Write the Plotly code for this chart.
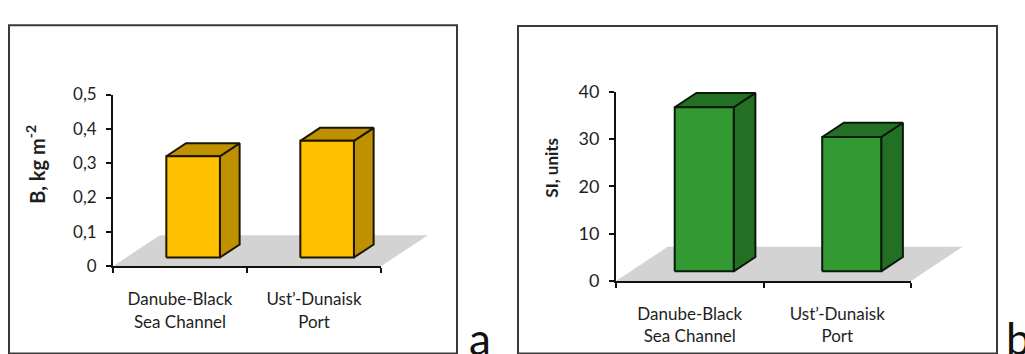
import plotly.graph_objects as go

# ---- data -------------------------------------------------------------
categories = ["Danube-Black<br>Sea Channel", "Ust\u2019-Dunaisk<br>Port"]
biomass = [0.295, 0.34]          # B, kg m-2
si_units = [34.7, 28.4]          # SI, units
b_ticks = [0, 0.1, 0.2, 0.3, 0.4, 0.5]
si_ticks = [0, 10, 20, 30, 40]

# ---- page geometry (pixels) ------------------------------------------
W, H = 1025, 354
FONT = "Lato"
TEXT = "#1e1e1e"

def fx(p):
    return p / W

def fy(p):
    return 1 - p / H

# oblique 3-D look of the columns
DEPTH_X = 0.35        # floor depth along x, in category units
DEPTH_Y = 0.18        # floor depth along y, as a share of the value range
BAR_W = 0.40          # column width, in category units
BAR_D0, BAR_D1 = 0.28, 0.70   # column front / back, as share of floor depth

panels = [
    dict(values=biomass, ticks=b_ticks, ymax=0.5, ox=113, oy=271, ux=134, ytop=88,
         front="#FFC000", shade="#BF9000", edge="#1c1500",
         title="<b>B, kg m<sup>-2</sup></b>", tsize=20, tx=35, ty=163,
         tickfont=17, letter="a", lx=480, ly=348),
    dict(values=si_units, ticks=si_ticks, ymax=40, ox=616, oy=286.7, ux=147.5, ytop=85,
         front="#339933", shade="#236F23", edge="#081a08",
         title="<b>SI, units</b>", tsize=17, tx=552, ty=166,
         tickfont=18, letter="b", lx=1018, ly=348),
]

fig = go.Figure()
layout_axes = {}
annotations = []
shapes = []


def poly(xs, ys, fill, edge, xa, ya, width=2):
    return go.Scatter(x=xs + [xs[0]], y=ys + [ys[0]], mode="lines", fill="toself",
                      fillcolor=fill, line=dict(color=edge, width=width),
                      xaxis=xa, yaxis=ya, hoverinfo="skip", showlegend=False)


for k, p in enumerate(panels):
    n_data = 2 * k + 1
    n_vis = 2 * k + 2
    xd, yd = f"x{n_data if n_data > 1 else ''}", f"y{n_data if n_data > 1 else ''}"
    xv, yv = f"x{n_vis}", f"y{n_vis}"
    ncat = len(p["values"])
    ymax = p["ymax"]
    ppu = (p["oy"] - p["ytop"]) / ymax          # pixels per value unit

    # data axes (hidden) - slightly larger ranges so the 3-D faces are not clipped
    xr = ncat + 0.45
    yr = ymax * 1.06
    data_x = dict(range=[0, xr], domain=[fx(p["ox"]), fx(p["ox"] + xr * p["ux"])],
                  visible=False, anchor=yd, fixedrange=True)
    data_y = dict(range=[0, yr], domain=[fy(p["oy"]), fy(p["oy"] - yr * ppu)],
                  visible=False, anchor=xd, fixedrange=True)
    # visible axes
    vis_x = dict(range=[0, ncat], domain=[fx(p["ox"]), fx(p["ox"] + ncat * p["ux"])],
                 anchor=yv, showline=True, linecolor="#111", linewidth=1.8,
                 showgrid=False, zeroline=False, ticks="",
                 tickvals=[i + 0.5 for i in range(ncat)], ticktext=categories,
                 tickfont=dict(family=FONT, size=17, color=TEXT),
                 ticklabelstandoff=17,
                 minor=dict(tickvals=list(range(ncat + 1)), ticks="outside",
                            ticklen=5, tickcolor="#111", tickwidth=1.8),
                 fixedrange=True, layer="below traces")
    vis_y = dict(range=[0, ymax], domain=[fy(p["oy"]), fy(p["ytop"])],
                 anchor=xv, showline=True, linecolor="#111", linewidth=1.8,
                 showgrid=False, zeroline=False, ticks="outside", ticklen=5,
                 tickcolor="#111", tickwidth=1.6, tickvals=p["ticks"],
                 tickfont=dict(family=FONT, size=p["tickfont"], color=TEXT),
                 ticklabelstandoff=6, fixedrange=True, layer="below traces")

    key_d = "" if n_data == 1 else str(n_data)
    layout_axes[f"xaxis{key_d}"] = data_x
    layout_axes[f"yaxis{key_d}"] = data_y
    layout_axes[f"xaxis{n_vis}"] = vis_x
    layout_axes[f"yaxis{n_vis}"] = vis_y

    # empty trace so the visible axis pair forms a subplot
    fig.add_trace(go.Scatter(x=[None], y=[None], xaxis=xv, yaxis=yv, showlegend=False,
                             hoverinfo="skip"))

    dx = DEPTH_X
    dy = DEPTH_Y * ymax
    # floor
    fig.add_trace(poly([0, ncat, ncat + dx, dx], [0, 0, dy, dy],
                       "#D3D3D3", "rgba(0,0,0,0)", xd, yd, width=0))

    # columns
    for i, v in enumerate(p["values"]):
        x0 = i + 0.5 - BAR_W / 2 + BAR_D0 * dx
        x1 = x0 + BAR_W
        yb = BAR_D0 * dy
        yt = yb + v
        ddx = (BAR_D1 - BAR_D0) * dx
        ddy = (BAR_D1 - BAR_D0) * dy
        # side face
        fig.add_trace(poly([x1, x1 + ddx, x1 + ddx, x1],
                           [yb, yb + ddy, yt + ddy, yt], p["shade"], p["edge"], xd, yd))
        # top face
        fig.add_trace(poly([x0, x1, x1 + ddx, x0 + ddx],
                           [yt, yt, yt + ddy, yt + ddy], p["shade"], p["edge"], xd, yd))
        # front face
        fig.add_trace(poly([x0, x1, x1, x0], [yb, yb, yt, yt],
                           p["front"], p["edge"], xd, yd))

    # axis title
    annotations.append(dict(text=p["title"], x=fx(p["tx"]), y=fy(p["ty"]),
                            xref="paper", yref="paper", textangle=-90,
                            showarrow=False, xanchor="center", yanchor="middle",
                            font=dict(family=FONT, size=p["tsize"], color=TEXT)))
    # panel letter
    annotations.append(dict(text=p["letter"], x=fx(p["lx"]), y=fy(p["ly"]),
                            xref="paper", yref="paper", showarrow=False,
                            xanchor="center", yanchor="middle",
                            font=dict(family=FONT, size=44, color="#111")))

# panel frames
for (l, t, r) in [(9, 14, 457), (518, 15, 997)]:
    shapes.append(dict(type="rect", xref="paper", yref="paper",
                       x0=fx(l), x1=fx(r), y0=fy(H + 10), y1=fy(t),
                       line=dict(color="#3a3a3a", width=2), fillcolor="rgba(0,0,0,0)",
                       layer="below"))

fig.update_layout(width=W, height=H, margin=dict(l=0, r=0, t=0, b=0),
                  paper_bgcolor="white", plot_bgcolor="rgba(0,0,0,0)",
                  separators=",.", showlegend=False,
                  annotations=annotations, shapes=shapes, **layout_axes)

fig.write_html("out.html")
